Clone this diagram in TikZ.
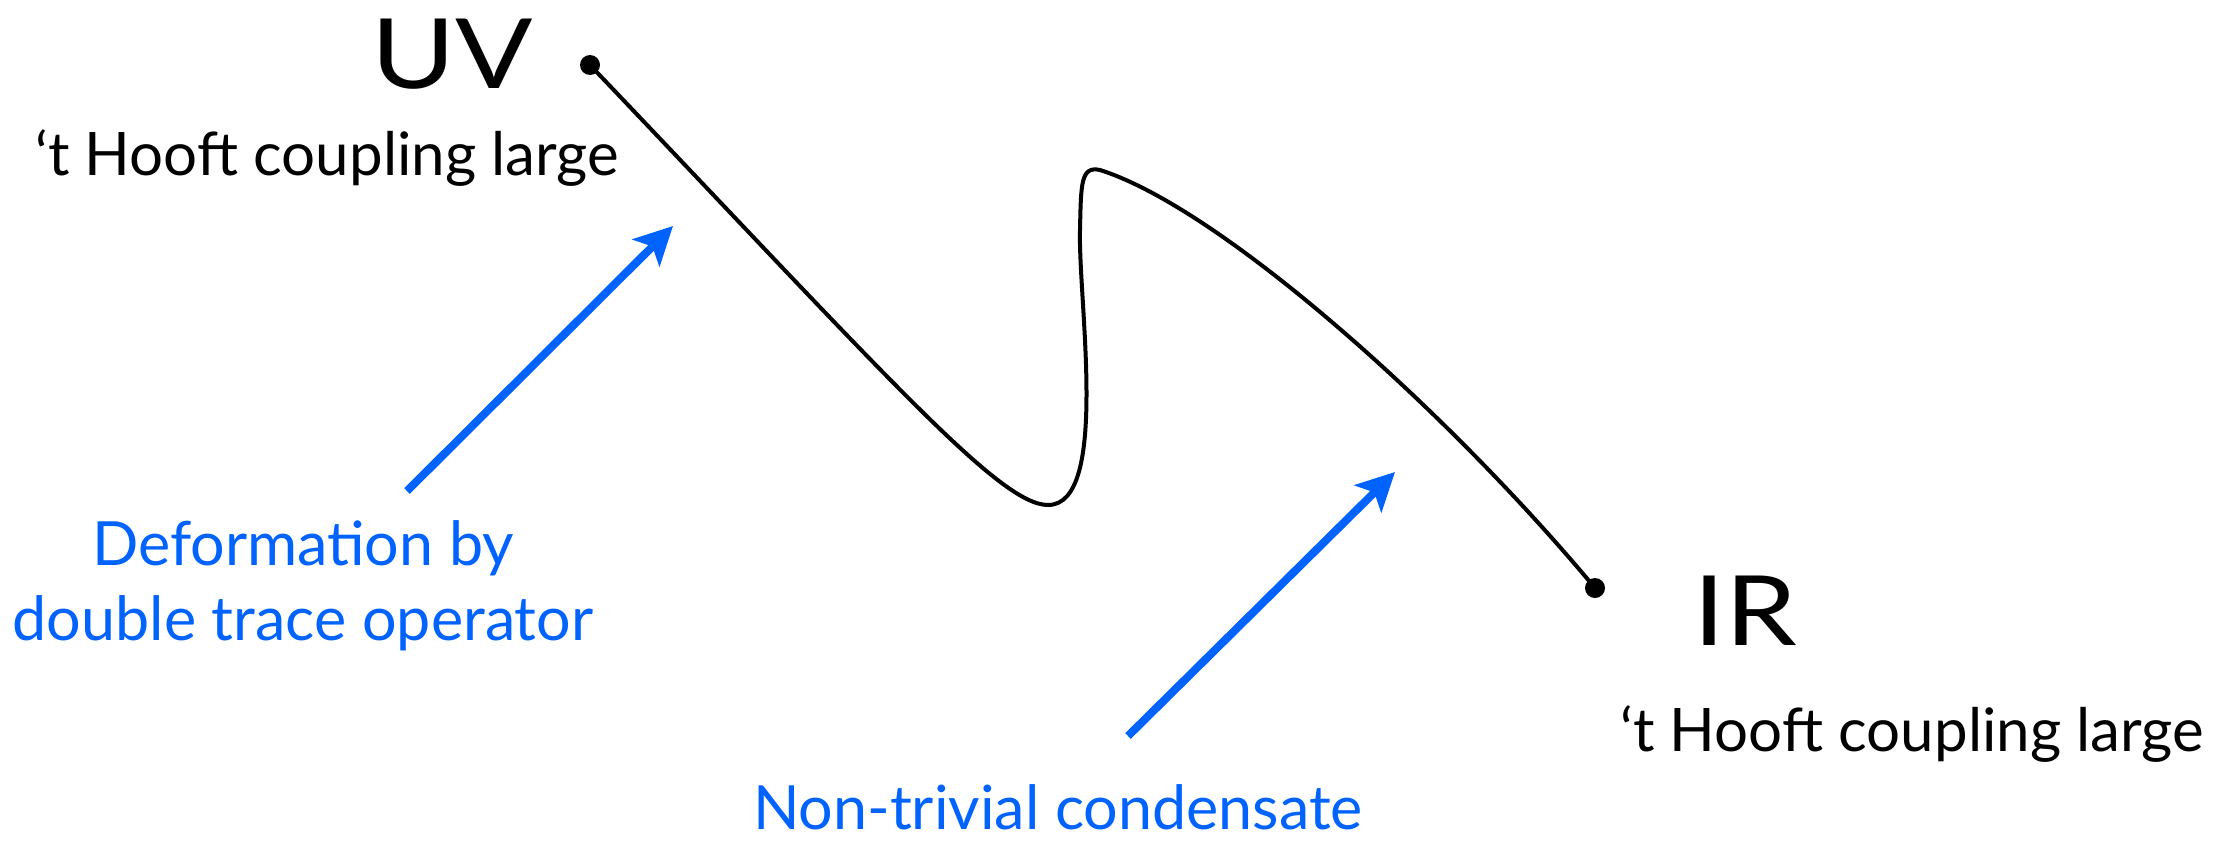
\documentclass[tikz,border=0pt]{standalone}
\usepackage{fontspec}
\setmainfont{Lato}
\usetikzlibrary{arrows.meta}
\definecolor{arrowblue}{RGB}{0,98,255}
\begin{document}
\begin{tikzpicture}[x=1pt,y=-1pt,
  big/.style={font=\fontsize{97}{97}\selectfont, inner sep=0pt},
  mid/.style={font=\fontsize{60}{70}\selectfont, inner sep=0pt},
  bluetext/.style={font=\fontsize{61}{70}\selectfont, inner sep=0pt, text=arrowblue},
  flow/.style={line width=4pt, black},
  fixedpt/.style={circle, fill=black, minimum size=20pt, inner sep=0pt},
  pointer/.style={arrowblue, line width=8pt, -{Stealth[length=38pt,width=38pt,inset=9pt]}}]
\useasboundingbox (0,0) rectangle (2222,841);
\node[fixedpt] (uvdot) at (590,65) {};
\node[fixedpt] (irdot) at (1595,588) {};
\draw[flow] (uvdot.center) .. controls (890,380) and (1000,505) .. (1048,505)
  .. controls (1110,505) and (1078,300) .. (1080,230)
  .. controls (1081,182) and (1081,166) .. (1100,170)
  .. controls (1220,208) and (1445,408) .. (irdot.center);
\node[big, anchor=base west] (uv) at (371,88) {\scalebox{1.18}[1]{UV}};
\node[mid, anchor=base west] (uvc) at (35,175) {‘t Hooft coupling large};
\node[big, anchor=base west] (ir) at (1693,645) {\scalebox{1.18}[1]{IR}};
\node[mid, anchor=base west] (irc) at (1620,751) {‘t Hooft coupling large};
\node[bluetext, anchor=base] (def1) at (303,565) {Deformation by};
\node[bluetext, anchor=base] (def2) at (303,640) {double trace operator};
\node[bluetext, anchor=base] (cond) at (1058,829) {Non-trivial condensate};
\coordinate (a1s) at (407,491);
\coordinate (a1e) at (673,226);
\coordinate (a2s) at (1128,736);
\coordinate (a2e) at (1395,472);
\draw[pointer] (a1s) -- (a1e);
\draw[pointer] (a2s) -- (a2e);
\end{tikzpicture}
\end{document}
